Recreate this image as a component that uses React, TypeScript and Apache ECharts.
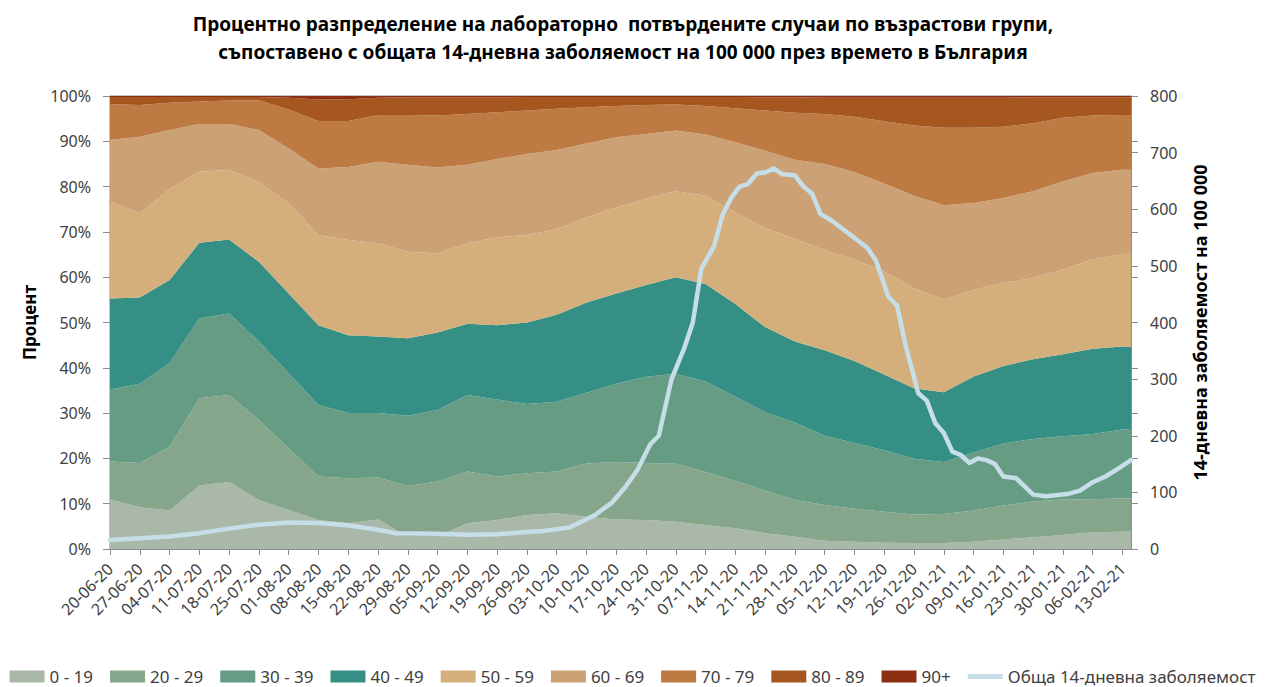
import { useEffect, useRef } from 'react';
import * as echarts from 'echarts';

const TITLE_LINE_1 = 'Процентно разпределение на лабораторно  потвърдените случаи по възрастови групи,';
const TITLE_LINE_2 = 'съпоставено с общата 14-дневна заболяемост на 100 000 през времето в България';

// Tick labels of the date axis (one every 7 days, starting 20-06-20 = day 0)
const xTickLabels = [
  '20-06-20', '27-06-20', '04-07-20', '11-07-20', '18-07-20', '25-07-20', '01-08-20', '08-08-20',
  '15-08-20', '22-08-20', '29-08-20', '05-09-20', '12-09-20', '19-09-20', '26-09-20', '03-10-20',
  '10-10-20', '17-10-20', '24-10-20', '31-10-20', '07-11-20', '14-11-20', '21-11-20', '28-11-20',
  '05-12-20', '12-12-20', '19-12-20', '26-12-20', '02-01-21', '09-01-21', '16-01-21', '23-01-21',
  '30-01-21', '06-02-21', '13-02-21',
];
const TOTAL_DAYS = 240; // 20-06-20 .. 15-02-21

// Sample dates of the age shares, in days since 20-06-20
const sampleDays = [
  0, 7, 14, 21, 28, 35, 42, 49, 56, 63, 70, 77, 84, 91, 98, 105, 112, 119, 126, 133,
  140, 147, 154, 161, 168, 175, 182, 189, 196, 203, 210, 217, 224, 231, 238, 240,
];

// Share of cases (%) by age group
const age0_19 = [11.0, 9.2, 8.5, 14.0, 14.8, 10.8, 8.6, 6.4, 5.7, 6.5, 2.7, 2.7, 5.7, 6.4, 7.5, 7.9, 7.1, 6.5, 6.4, 6.0, 5.3, 4.6, 3.5, 2.7, 1.8, 1.6, 1.4, 1.3, 1.3, 1.6, 2.1, 2.6, 3.1, 3.7, 3.8, 3.8];
const age20_29 = [8.3, 9.8, 14.0, 19.3, 19.2, 17.7, 13.6, 9.6, 9.9, 9.3, 11.2, 12.2, 11.4, 9.6, 9.2, 9.2, 11.8, 12.7, 12.6, 12.8, 11.7, 10.4, 9.4, 8.1, 7.9, 7.3, 6.8, 6.3, 6.4, 6.9, 7.5, 7.9, 7.8, 7.3, 7.4, 7.4];
const age30_39 = [15.9, 17.5, 18.5, 17.6, 18.0, 17.3, 16.6, 15.8, 14.4, 14.2, 15.5, 15.8, 16.9, 17.0, 15.3, 15.4, 15.6, 17.3, 19.0, 19.9, 20.0, 18.6, 17.3, 17.1, 15.3, 14.5, 13.6, 12.3, 11.5, 12.8, 13.7, 13.8, 14.0, 14.4, 15.2, 15.3];
const age40_49 = [20.1, 19.0, 18.4, 16.7, 16.3, 17.6, 17.6, 17.6, 17.2, 16.9, 17.1, 17.1, 15.7, 16.4, 18.0, 19.2, 19.9, 19.9, 20.3, 21.3, 21.5, 20.5, 18.8, 17.9, 18.9, 18.1, 16.7, 15.6, 15.4, 16.8, 17.1, 17.6, 18.1, 18.8, 18.3, 18.1];
const age50_59 = [21.4, 18.6, 20.0, 15.7, 15.4, 17.6, 19.9, 19.9, 21.0, 20.6, 19.1, 17.5, 17.8, 19.4, 19.3, 18.9, 18.8, 19.0, 19.0, 19.0, 19.5, 20.2, 21.8, 22.7, 22.0, 22.4, 22.7, 22.0, 20.5, 19.1, 18.4, 17.9, 18.7, 19.7, 20.4, 20.6];
const age60_69 = [13.6, 16.9, 13.1, 10.5, 10.1, 11.5, 12.1, 14.7, 16.1, 18.0, 19.2, 18.9, 17.3, 17.3, 17.9, 17.5, 16.3, 15.5, 14.3, 13.4, 13.5, 15.5, 17.1, 17.4, 19.1, 19.3, 19.5, 20.5, 20.8, 19.2, 18.7, 19.2, 19.5, 19.1, 18.6, 18.5];
const age70_79 = [7.9, 7.0, 6.0, 5.0, 5.2, 6.5, 8.6, 10.5, 10.2, 10.3, 11.0, 11.5, 11.2, 10.3, 9.6, 9.1, 8.0, 6.9, 6.4, 5.7, 6.3, 7.5, 8.9, 10.4, 11.0, 12.2, 13.7, 15.5, 17.1, 16.6, 15.7, 15.0, 14.0, 12.7, 12.1, 12.1];
const age80_89 = [1.6, 1.8, 1.3, 1.0, 0.8, 0.8, 2.6, 4.7, 4.8, 3.8, 3.9, 4.0, 3.7, 3.3, 3.0, 2.6, 2.3, 2.0, 1.8, 1.7, 2.0, 2.5, 2.9, 3.4, 3.6, 4.2, 5.2, 6.1, 6.6, 6.6, 6.4, 5.7, 4.5, 4.0, 3.9, 3.9];
const age90plus = [0.2, 0.2, 0.2, 0.2, 0.2, 0.2, 0.4, 0.8, 0.7, 0.4, 0.3, 0.3, 0.3, 0.3, 0.2, 0.2, 0.2, 0.2, 0.2, 0.2, 0.2, 0.2, 0.3, 0.3, 0.4, 0.4, 0.4, 0.4, 0.4, 0.4, 0.4, 0.3, 0.3, 0.3, 0.3, 0.3];

// Total 14-day incidence per 100 000 (right axis)
const incidenceDays = [
  0, 7, 14, 21, 28, 35, 42, 49, 56, 63, 67, 77, 84, 91, 98, 102, 108, 114, 118, 121,
  124, 127, 129, 132, 135, 137, 139, 142, 144, 146, 148, 150, 152, 154, 156, 158, 161, 163, 165, 167,
  170, 174, 178, 180, 183, 185, 187, 190, 192, 194, 196, 198, 200, 202, 204, 206, 208, 210, 213, 217,
  220, 225, 228, 231, 234, 237, 240,
];
const incidence = [
  16, 19, 22, 28, 36, 43, 47, 46, 42, 34, 28, 27, 25, 26, 30, 32, 38, 60, 82, 108,
  140, 185, 200, 300, 355, 400, 495, 535, 590, 620, 640, 645, 663, 665, 672, 662, 660, 640, 628, 592,
  578, 555, 532, 510, 445, 430, 360, 275, 262, 222, 205, 172, 166, 152, 160, 157, 150, 128, 125, 96,
  93, 97, 103, 118, 128, 142, 157,
];

const ageNames = ['0 - 19', '20 - 29', '30 - 39', '40 - 49', '50 - 59', '60 - 69', '70 - 79', '80 - 89', '90+'];
const ageSeries = [age0_19, age20_29, age30_39, age40_49, age50_59, age60_69, age70_79, age80_89, age90plus];
const ageColors = ['#a9b8a8', '#86a68b', '#669c84', '#368f85', '#d4af7b', '#cda176', '#bd7a43', '#a5571f', '#8b2e12'];
const lineName = 'Обща 14-дневна заболяемост';
const lineColor = '#c6dee8';

const FONT = 'Noto Sans';
const AXIS_GREY = '#8c8c8c';
const LABEL_COLOR = '#404040';

export default function App() {
  const ref = useRef<HTMLDivElement>(null);

  useEffect(() => {
    if (!ref.current) return;
    const chart = echarts.init(ref.current, undefined, { renderer: 'svg' });

    // one category per day; labels shown every 7th day
    const dayCategories = Array.from({ length: TOTAL_DAYS + 1 }, (_, i) => String(i));
    const weekly = (index: number) => index % 7 === 0 && index / 7 < xTickLabels.length;

    const areaSeries = ageNames.map((name, k) => ({
      name,
      type: 'line',
      stack: 'share',
      yAxisIndex: 0,
      symbol: 'none',
      showSymbol: false,
      lineStyle: { width: 0 },
      itemStyle: { color: ageColors[k] },
      areaStyle: { color: ageColors[k], opacity: 1 },
      data: sampleDays.map((d, i) => [d, ageSeries[k][i]]),
      z: 2,
    }));

    const option = {
      animation: false,
      textStyle: { fontFamily: FONT },
      title: {
        text: TITLE_LINE_1 + '\n' + TITLE_LINE_2,
        left: 618,
        top: 5,
        textAlign: 'center',
        textStyle: { fontFamily: FONT, fontSize: 19, fontWeight: 'bold', color: '#000', lineHeight: 28 },
      },
      grid: {
        left: 110,
        right: 134,
        top: 96,
        bottom: 138,
        show: true,
        borderColor: AXIS_GREY,
        borderWidth: 1,
        backgroundColor: 'transparent',
      },
      legend: {
        left: 'center',
        top: 663,
        itemWidth: 35,
        itemHeight: 12,
        itemGap: 17,
        textStyle: { fontFamily: FONT, fontSize: 17, color: LABEL_COLOR },
        data: [
          ...ageNames.map((n) => ({ name: n, icon: 'rect' })),
          { name: lineName, icon: 'path://M0,0M0,3.5L35,3.5L35,8.5L0,8.5ZM35,12', itemStyle: { color: lineColor } },
        ],
      },
      xAxis: {
        type: 'category',
        boundaryGap: false,
        data: dayCategories,
        axisLine: { show: true, lineStyle: { color: AXIS_GREY } },
        axisTick: { show: true, length: 6, interval: weekly, lineStyle: { color: AXIS_GREY } },
        splitLine: { show: false },
        axisLabel: {
          rotate: 45,
          fontSize: 16,
          color: LABEL_COLOR,
          margin: 17,
          interval: weekly,
          formatter: (_v: string, index: number) => (weekly(index) ? xTickLabels[index / 7] : ''),
        },
      },
      yAxis: [
        {
          type: 'value',
          min: 0,
          max: 100,
          interval: 10,
          position: 'left',
          name: 'Процент',
          nameLocation: 'middle',
          nameGap: 72,
          nameRotate: 90,
          nameTextStyle: { fontFamily: FONT, fontSize: 17, fontWeight: 'bold', color: '#000' },
          axisLine: { show: true, lineStyle: { color: AXIS_GREY } },
          axisTick: { show: true, length: 7, lineStyle: { color: AXIS_GREY } },
          axisLabel: { formatter: '{value}%', fontSize: 16, color: LABEL_COLOR, margin: 19 },
          splitLine: { show: false },
        },
        {
          type: 'value',
          min: 0,
          max: 800,
          interval: 100,
          position: 'right',
          name: '14-дневна заболяемост на 100 000',
          nameLocation: 'middle',
          nameGap: 60,
          nameRotate: 90,
          nameTextStyle: { fontFamily: FONT, fontSize: 18, fontWeight: 'bold', color: '#000' },
          axisLine: { show: true, lineStyle: { color: AXIS_GREY } },
          axisTick: { show: true, length: 7, lineStyle: { color: AXIS_GREY } },
          axisLabel: { fontSize: 16, color: LABEL_COLOR, margin: 19 },
          splitLine: { show: false },
        },
        {
          type: 'value',
          min: 0,
          max: 100,
          interval: 10,
          position: 'right',
          axisLine: { show: false },
          axisTick: { show: true, length: 7, lineStyle: { color: AXIS_GREY } },
          axisLabel: { show: false },
          splitLine: { show: false },
        },
      ],
      series: [
        ...areaSeries,
        {
          name: lineName,
          type: 'line',
          yAxisIndex: 1,
          symbol: 'none',
          showSymbol: false,
          itemStyle: { color: lineColor },
          lineStyle: { color: lineColor, width: 4.5, cap: 'round', join: 'round' },
          data: incidenceDays.map((d, i) => [d, incidence[i]]),
          z: 5,
        },
      ],
    };

    chart.setOption(option as any);
    return () => chart.dispose();
  }, []);

  return (
    <div
      ref={ref}
      style={{ position: 'absolute', left: 0, top: 0, width: 1265, height: 687, background: '#fff' }}
    />
  );
}
